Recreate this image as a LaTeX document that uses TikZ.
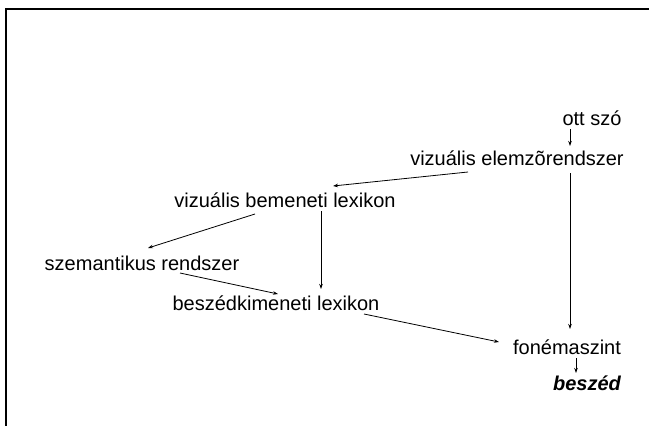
\documentclass[tikz,border=0pt]{standalone}
\usepackage{fontspec}
\setmainfont{Liberation Sans}
\usetikzlibrary{arrows.meta}
\begin{document}
\begin{tikzpicture}[x=1pt,y=-1pt,
  lbl/.style={font=\fontsize{20}{24}\selectfont, inner sep=0pt, anchor=base},
  conn/.style={line width=0.8pt, -{Stealth[length=5pt,width=3.5pt]}}]
\useasboundingbox (0,0) rectangle (649,426);
\draw[line width=2pt] (6,426) -- (6,8.5) -- (649,8.5);
\node[lbl] (ott) at (592,125) {ott szó};
\node[lbl] (elem) at (517,165) {vizuális elemzõrendszer};
\node[lbl] (bem) at (285,207) {vizuális bemeneti lexikon};
\node[lbl] (szem) at (142,270) {szemantikus rendszer};
\node[lbl] (besz) at (276,310) {beszédkimeneti lexikon};
\node[lbl] (fon) at (567,354) {fonémaszint};
\node[lbl,font=\fontsize{20}{24}\selectfont\bfseries\itshape] (beszed) at (587,390) {beszéd};
\coordinate (a1) at (570,129); \coordinate (a2) at (570,146);
\draw[conn] (a1) -- (a2);
\coordinate (b1) at (468,172); \coordinate (b2) at (333,186);
\draw[conn] (b1) -- (b2);
\coordinate (c1) at (570,173); \coordinate (c2) at (570,329);
\draw[conn] (c1) -- (c2);
\coordinate (d1) at (255,214); \coordinate (d2) at (148,248);
\draw[conn] (d1) -- (d2);
\coordinate (e1) at (321,211); \coordinate (e2) at (321,289);
\draw[conn] (e1) -- (e2);
\coordinate (f1) at (180,273); \coordinate (f2) at (278,294);
\draw[conn] (f1) -- (f2);
\coordinate (g1) at (364,314); \coordinate (g2) at (499,342);
\draw[conn] (g1) -- (g2);
\coordinate (h1) at (576,358); \coordinate (h2) at (576,373);
\draw[conn] (h1) -- (h2);
\end{tikzpicture}
\end{document}
